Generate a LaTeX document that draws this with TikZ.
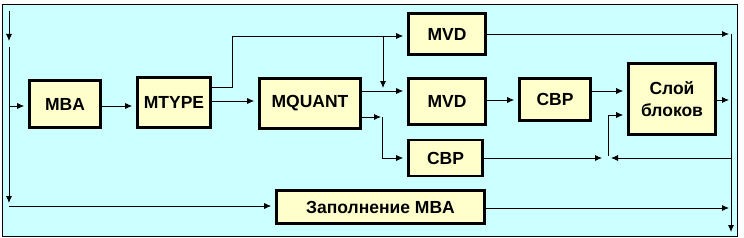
\documentclass[tikz,border=0pt]{standalone}
\usepackage{fontspec}
\setmainfont{Liberation Sans}
\usetikzlibrary{arrows.meta}
\definecolor{panelcyan}{HTML}{CCFFFF}
\definecolor{boxyellow}{HTML}{FFFFCC}

\begin{document}
\begin{tikzpicture}[x=1pt, y=-1pt, >={Latex[length=7pt,width=6pt]},
    block/.style={draw, line width=2.6pt, fill=boxyellow, inner sep=0pt,
        font=\bfseries\fontsize{17.5}{22}\selectfont, align=center},
    link/.style={line width=0.8pt},
    into/.style={link, ->, shorten >=4pt}]
    \useasboundingbox (0,0) rectangle (744,238);
    % Panel
    \fill[white] (0,0) rectangle (744,238);
    \draw[fill=panelcyan, line width=0.8pt] (2.5,4.5) rectangle (737,236);

    % Blocks
    \node[block, minimum width=71pt, minimum height=47pt] (mba) at (65,104) {MBA};
    \node[block, minimum width=73pt, minimum height=50pt] (mtype) at (174,102.5) {MTYPE};
    \node[block, minimum width=101pt, minimum height=50pt] (mquant) at (310,103.5) {MQUANT};
    \node[block, minimum width=77pt, minimum height=41pt] (mvdA) at (447,34) {MVD};
    \node[block, minimum width=77pt, minimum height=46pt] (mvdB) at (447,101.5) {MVD};
    \node[block, minimum width=74pt, minimum height=36pt] (cbpA) at (445.5,158) {CBP};
    \node[block, minimum width=208pt, minimum height=33pt] (fill) at (380.5,207) {Заполнение MBA};
    \node[block, minimum width=71pt, minimum height=42pt] (cbpB) at (555,99.5) {CBP};
    \node[block, minimum width=87pt, minimum height=71pt] (layer) at (672,99) {Слой\\блоков};

    % Left bus
    \coordinate (lbTop) at (9,11);
    \coordinate (lbGapA) at (9,41);
    \coordinate (lbGapB) at (9,47);
    \coordinate (lbEnd) at (9,203);
    \coordinate (lbMba) at (9,106);
    \coordinate (lbFill) at (9,206);
    \draw[link,->] (lbTop) -- (lbGapA);
    \draw[link,->] (lbGapB) -- (lbEnd);
    \draw[into] (lbMba) -- (lbMba -| mba.west);
    \draw[into] (lbFill) -- (lbFill -| fill.west);

    % Main chain
    \draw[into] ([yshift=-2pt]mba.east) -- ([yshift=-2pt]mba.east -| mtype.west);
    \draw[into] ([yshift=1.5pt]mtype.east) -- ([yshift=1.5pt]mtype.east -| mquant.west);
    \coordinate (upA) at (232,36);
    \draw[into] ([yshift=15.5pt]mtype.east) -| (upA) -- (upA -| mvdA.west);
    \coordinate (brTop) at (383,36);
    \coordinate (brEnd) at (383,88);
    \draw[link,->] (brTop) -- (brEnd);
    \draw[into] ([yshift=12.5pt]mquant.east) -- ([yshift=12.5pt]mquant.east -| mvdB.west);
    \coordinate (lowC) at (382,117);
    \draw[link,->, shorten >=1pt] ([yshift=-13.5pt]mquant.east) -- (lowC);
    \draw[into] (lowC) |- (cbpA.west);
    \draw[into] ([yshift=1.5pt]mvdB.east) -- ([yshift=1.5pt]mvdB.east -| cbpB.west);
    \draw[into] ([yshift=8.5pt]cbpB.east) -- ([yshift=8.5pt]cbpB.east -| layer.west);

    % Feedback into the layer block
    \coordinate (fbJoin) at (608,156);
    \coordinate (fbIn) at (602,158);
    \coordinate (fbInR) at (611,158);
    \coordinate (rbFb) at (731,158);
    \draw[link,->] (cbpA.east) -- (fbIn);
    \draw[link,->] (rbFb) -- (fbInR);
    \draw[into] (fbJoin) |- ([yshift=-16pt]layer.west);

    % Right bus
    \coordinate (rbTop) at (731,34);
    \coordinate (rbEnd) at (731,232);
    \draw[link,->] (rbTop) -- (rbEnd);
    \draw[link,->, shorten >=2pt] (mvdA.east) -- (mvdA.east -| rbTop);
    \draw[link,->, shorten >=2pt] ([yshift=-1pt]layer.east) -- ([yshift=-1pt]layer.east -| rbTop);
    \draw[link,->, shorten >=2pt] ([yshift=-1pt]fill.east) -- ([yshift=-1pt]fill.east -| rbTop);
\end{tikzpicture}
\end{document}
